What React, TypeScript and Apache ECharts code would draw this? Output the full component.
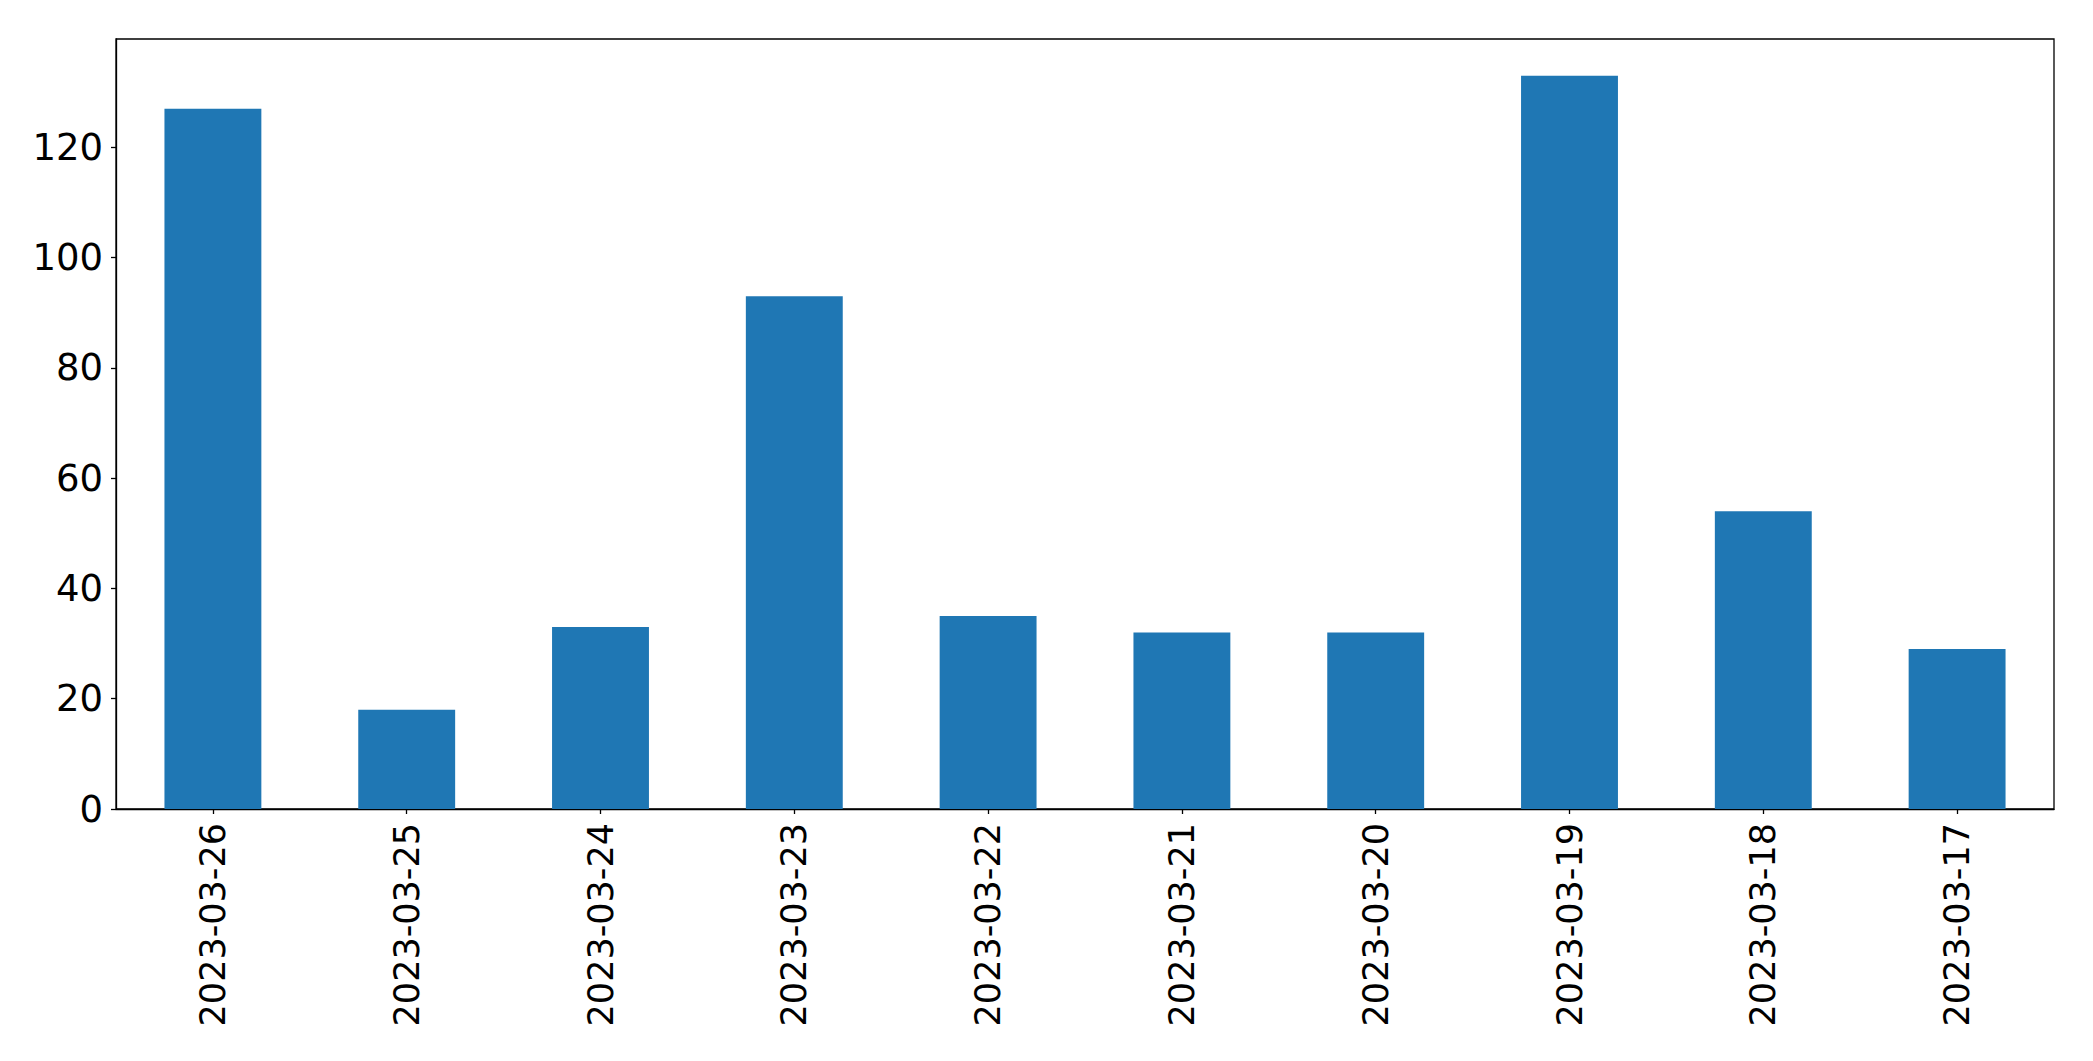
import React, { useEffect, useRef } from "react";
import * as echarts from "echarts";

const categories = [
  "2023-03-26",
  "2023-03-25",
  "2023-03-24",
  "2023-03-23",
  "2023-03-22",
  "2023-03-21",
  "2023-03-20",
  "2023-03-19",
  "2023-03-18",
  "2023-03-17",
];
const values = [127, 18, 33, 93, 35, 32, 32, 133, 54, 29];
const yTicks = [0, 20, 40, 60, 80, 100, 120];
const yMax = 139.65;

export default function App() {
  const ref = useRef<HTMLDivElement>(null);
  useEffect(() => {
    document.body.style.margin = "0";
    if (!ref.current) return;
    const chart = echarts.init(ref.current, null, { renderer: "svg" });
    const font = "DejaVu Sans";
    chart.setOption({
      animation: false,
      backgroundColor: "#ffffff",
      grid: {
        left: 116,
        top: 39,
        width: 1938,
        height: 770,
        show: true,
        borderColor: "#000000",
        borderWidth: 1.3,
        backgroundColor: "transparent",
      },
      xAxis: {
        type: "category",
        data: categories,
        boundaryGap: true,
        axisLine: { show: true, lineStyle: { color: "#000000", width: 1.3 } },
        axisTick: {
          show: true,
          alignWithLabel: true,
          length: 5,
          lineStyle: { color: "#000000", width: 1.3 },
        },
        axisLabel: {
          rotate: 90,
          margin: 14,
          color: "#000000",
          fontFamily: font,
          fontSize: 35,
          interval: 0,
        },
        splitLine: { show: false },
      },
      yAxis: {
        type: "value",
        min: 0,
        max: yMax,
        interval: 20,
        axisLine: { show: true, lineStyle: { color: "#000000", width: 1.3 } },
        axisTick: {
          show: true,
          length: 5,
          customValues: yTicks,
          lineStyle: { color: "#000000", width: 1.3 },
        },
        axisLabel: {
          margin: 13,
          color: "#000000",
          fontFamily: font,
          fontSize: 37,
          customValues: yTicks,
        },
        splitLine: { show: false },
      },
      series: [
        {
          type: "bar",
          data: values,
          barWidth: "50%",
          itemStyle: { color: "#1f77b4" },
        },
      ],
    });
    return () => chart.dispose();
  }, []);
  return <div ref={ref} style={{ width: 2093, height: 1061 }} />;
}
